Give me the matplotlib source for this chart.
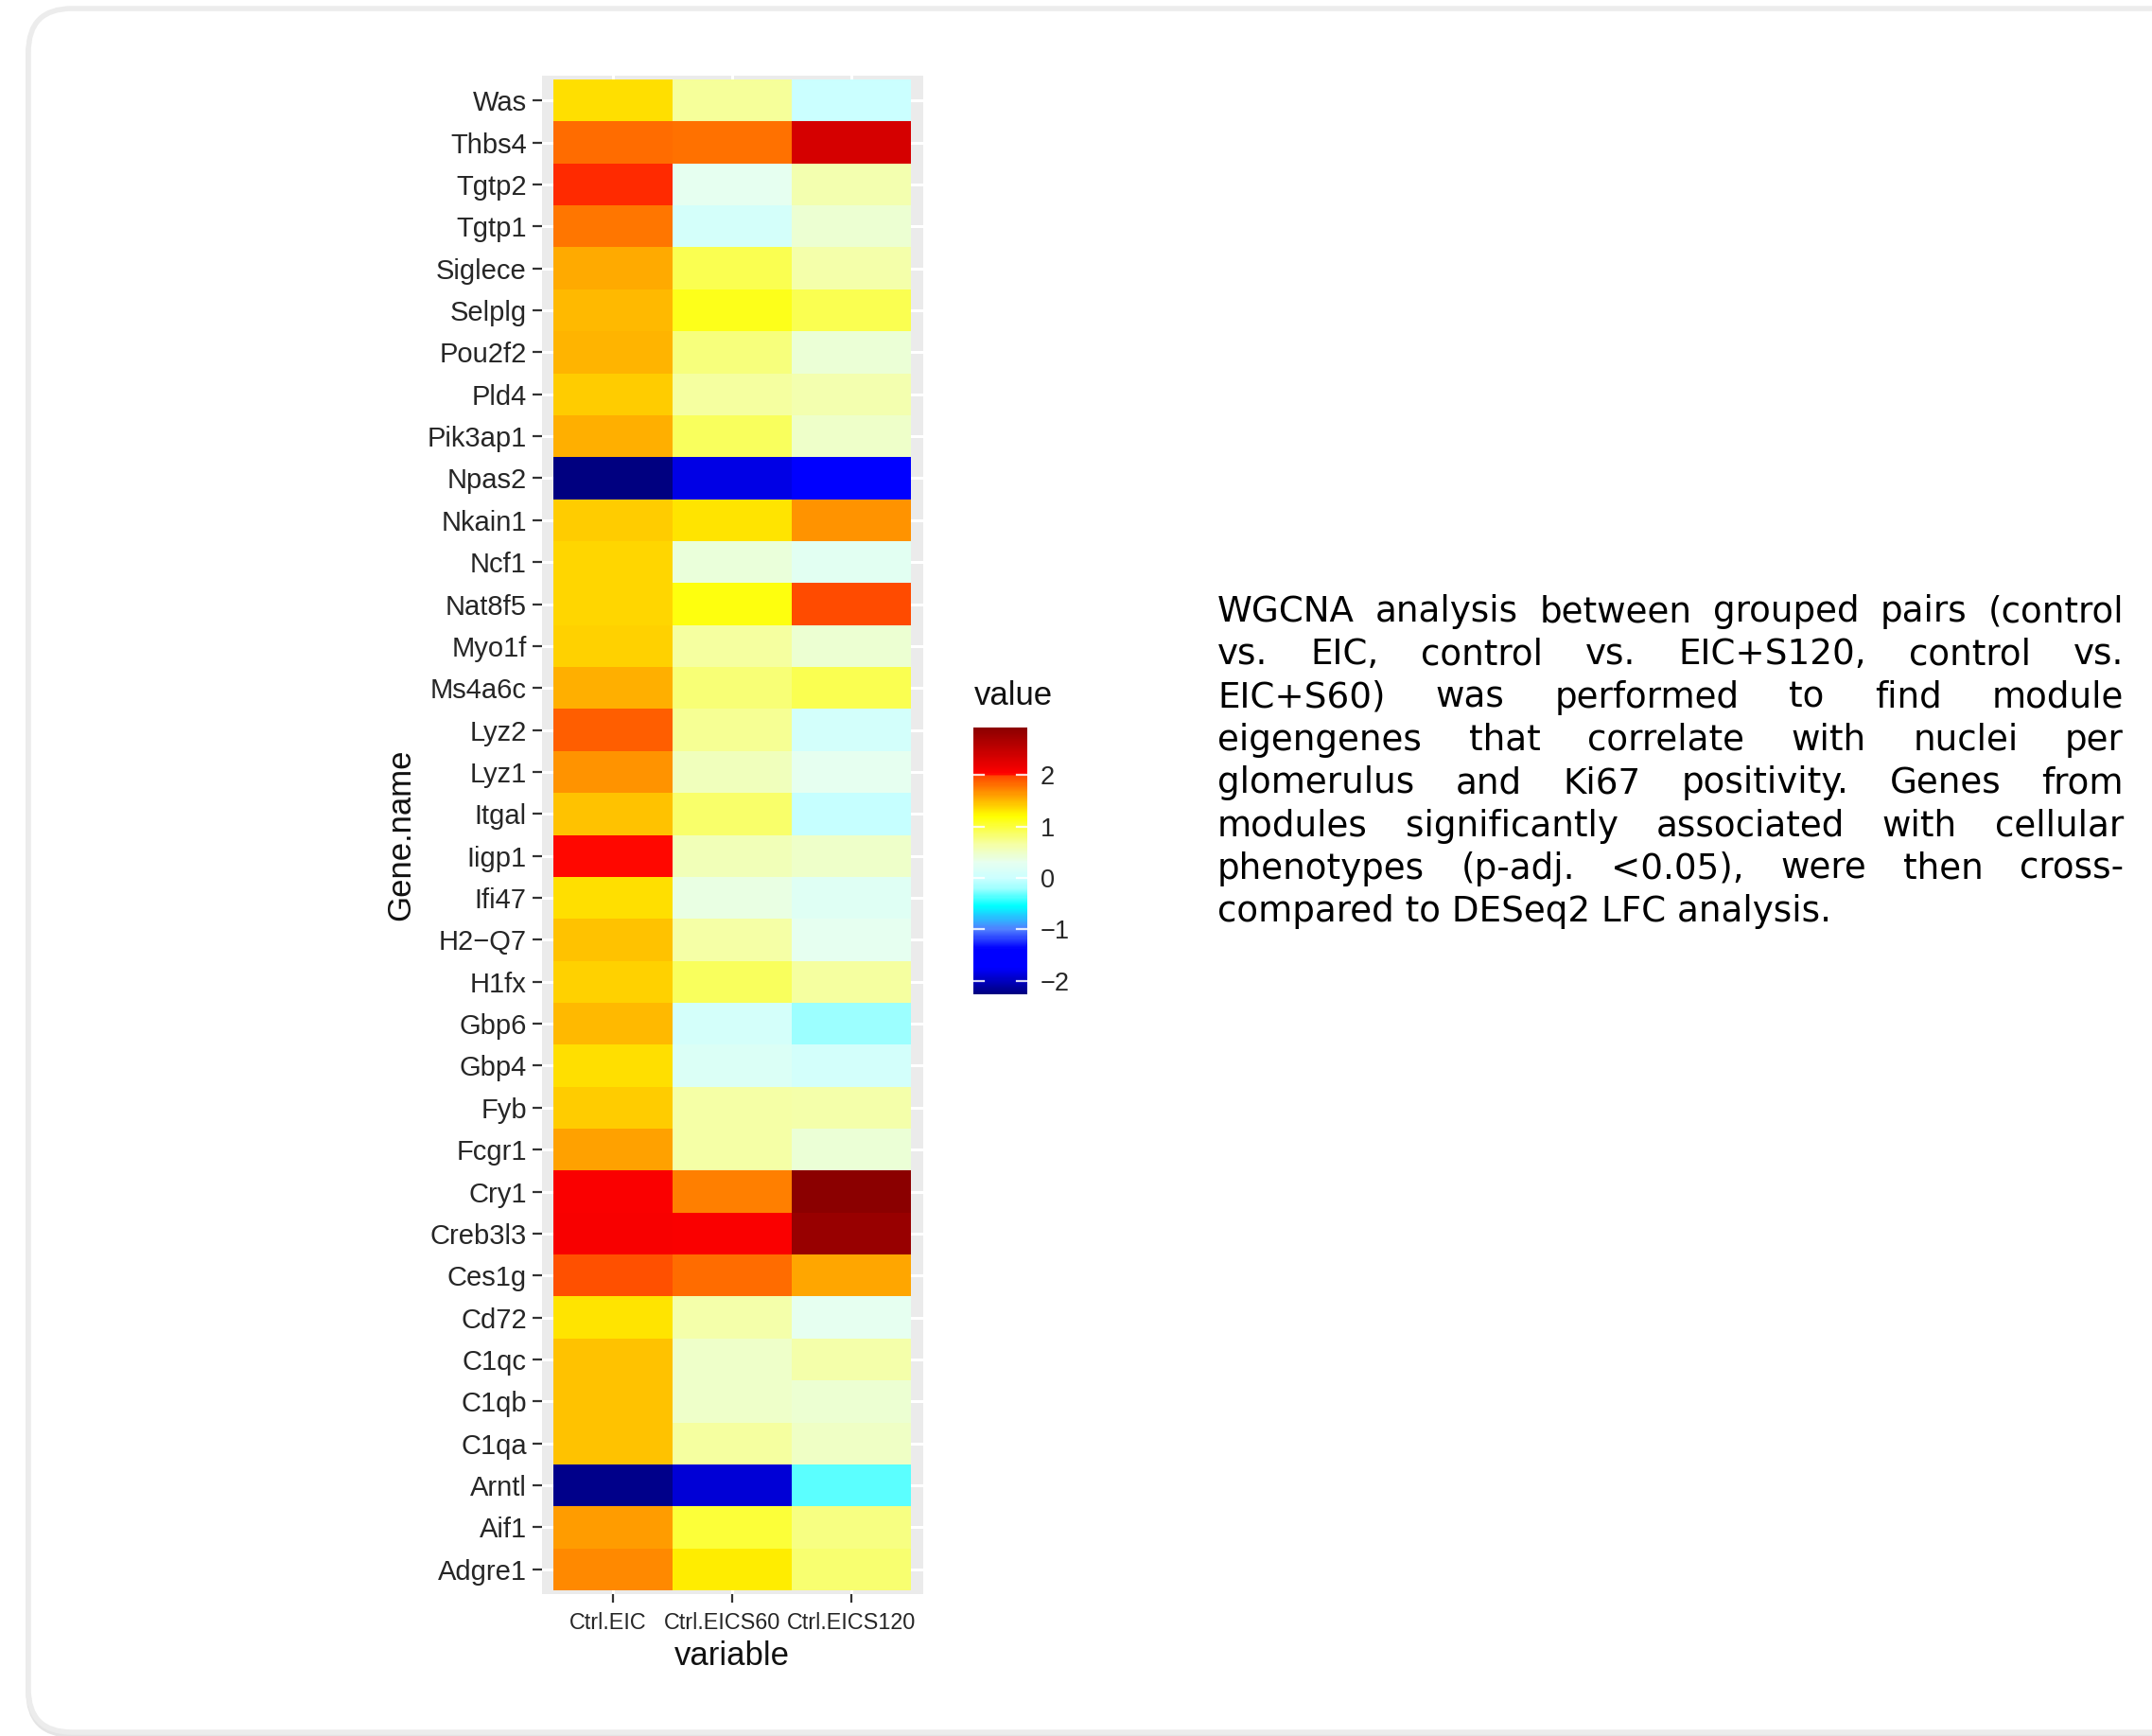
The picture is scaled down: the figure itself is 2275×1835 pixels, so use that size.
import numpy as np
import matplotlib
matplotlib.use("Agg")
import matplotlib.pyplot as plt
from matplotlib.colors import LinearSegmentedColormap
from matplotlib.patches import FancyBboxPatch

# rows listed bottom -> top (ggplot discrete axis order)
genes = ["Adgre1", "Aif1", "Arntl", "C1qa", "C1qb", "C1qc", "Cd72", "Ces1g",
         "Creb3l3", "Cry1", "Fcgr1", "Fyb", "Gbp4", "Gbp6", "H1fx", "H2\u2212Q7",
         "Ifi47", "Iigp1", "Itgal", "Lyz1", "Lyz2", "Ms4a6c", "Myo1f", "Nat8f5",
         "Ncf1", "Nkain1", "Npas2", "Pik3ap1", "Pld4", "Pou2f2", "Selplg",
         "Siglece", "Tgtp1", "Tgtp2", "Thbs4", "Was"]
variables = ["Ctrl.EIC", "Ctrl.EICS60", "Ctrl.EICS120"]

ctrl_eic = [1.70, 1.62, -2.20, 1.45, 1.45, 1.45, 1.31, 1.93, 2.08, 2.06, 1.60, 1.42,
            1.34, 1.49, 1.39, 1.45, 1.34, 2.01, 1.46, 1.65, 1.88, 1.54, 1.39, 1.38,
            1.38, 1.42, -2.26, 1.54, 1.41, 1.51, 1.50, 1.56, 1.77, 2.00, 1.82, 1.33]
ctrl_eics60 = [1.28, 1.01, -1.91, 0.67, 0.48, 0.48, 0.63, 1.82, 2.05, 1.74, 0.65, 0.65,
               0.18, 0.10, 0.88, 0.65, 0.37, 0.56, 0.85, 0.55, 0.70, 0.80, 0.67, 1.15,
               0.41, 1.31, -1.85, 0.88, 0.67, 0.79, 1.11, 0.93, 0.09, 0.30, 1.79, 0.69]
ctrl_eics120 = [0.83, 0.76, -0.34, 0.50, 0.44, 0.63, 0.30, 1.58, 2.80, 2.92, 0.43, 0.63,
                0.07, -0.20, 0.67, 0.30, 0.22, 0.48, -0.03, 0.30, 0.07, 0.93, 0.45, 1.95,
                0.26, 1.65, -1.60, 0.49, 0.61, 0.43, 0.93, 0.63, 0.45, 0.60, 2.35, 0.00]

caption_lines = [
    "WGCNA analysis between grouped pairs (control",
    "vs. EIC, control vs. EIC+S120, control vs.",
    "EIC+S60) was performed to find module",
    "eigengenes that correlate with nuclei per",
    "glomerulus and Ki67 positivity. Genes from",
    "modules significantly associated with cellular",
    "phenotypes (p-adj. <0.05), were then cross-",
    "compared to DESeq2 LFC analysis.",
]

W, H = 2275, 1835
SANS = ["Liberation Sans", "DejaVu Sans"]
TXT = "#262626"

Z = np.column_stack([ctrl_eic, ctrl_eics60, ctrl_eics120])
vmin, vmax = Z.min(), Z.max()

# gradient
stops = [(-2.26, "#000080"), (-1.75, "#0000FF"), (-1.38, "#0000FF"), (-1.0, "#5080FF"),
         (-0.55, "#00FFFF"), (-0.2, "#A0FFFF"), (0.0, "#CCFFFF"), (0.3, "#E6FFF0"),
         (0.65, "#F5FFA5"), (1.2, "#FFFF00"), (1.99, "#FF4500"), (2.03, "#FF0000"),
         (2.92, "#8B0000")]
cmap = LinearSegmentedColormap.from_list(
    "lfc", [((v - vmin) / (vmax - vmin), c) for v, c in stops])


def px(x0, y0, x1, y1):
    return [x0 / W, 1 - y1 / H, (x1 - x0) / W, (y1 - y0) / H]


fig = plt.figure(figsize=(W / 100, H / 100), dpi=100)

# card background
bg = fig.add_axes([0, 0, 1, 1])
bg.set_xlim(0, W)
bg.set_ylim(H, 0)
bg.axis("off")
bg.add_patch(FancyBboxPatch((30, 12), 2400, 1822, boxstyle="round,pad=0,rounding_size=46",
                            fc="none", ec="#e4e4e4", lw=4.0))
bg.add_patch(FancyBboxPatch((30, 9), 2400, 1822, boxstyle="round,pad=0,rounding_size=46",
                            fc="white", ec="#ececec", lw=4.0))

# heatmap
ax = fig.add_axes(px(573, 80, 976, 1685))
ax.set_facecolor("#EBEBEB")
n = len(genes)
im = ax.pcolormesh(np.arange(0.5, 3.6, 1.0), np.arange(0.5, n + 0.6, 1.0), Z,
                   cmap=cmap, vmin=vmin, vmax=vmax, shading="flat", zorder=2)
for k in range(1, 4):
    ax.axvline(k, color="white", lw=2.2, zorder=1)
for k in range(1, n + 1):
    ax.axhline(k, color="white", lw=2.2, zorder=1)
ax.set_xlim(0.405, 3.6)
ax.set_ylim(0.41, n + 0.59)
ax.set_xticks([1, 2, 3])
ax.set_xticklabels([])
ax.set_yticks(np.arange(1, n + 1))
ax.set_yticklabels(genes, fontsize=21, family=SANS, color=TXT)
ax.tick_params(axis="y", length=7.2, width=1.6, color="#333333", pad=4.5)
ax.tick_params(axis="x", length=6.5, width=1.6, color="#333333")
for s in ax.spines.values():
    s.set_visible(False)

# x labels sit slightly off-centre in the original
label_shift = [-0.04, -0.087, 0.0]
for k, (lab, dx) in enumerate(zip(variables, label_shift)):
    ax.text(k + 1 + dx, -0.0187, lab, transform=ax.get_xaxis_transform(),
            ha="center", va="center", fontsize=16.8, family=SANS, color=TXT)

bg.text(424, 882, "Gene.name", rotation=90, ha="center", va="center",
        fontsize=25, family=SANS, color="#111111")
bg.text(774, 1750, "variable", ha="center", va="center",
        fontsize=25, family=SANS, color="#111111")

# legend
cax = fig.add_axes(px(1029, 769, 1086, 1051))
cb = fig.colorbar(im, cax=cax, ticks=[-2, -1, 0, 1, 2])
cb.outline.set_visible(False)
cax.tick_params(length=0, pad=10, labelsize=19.5, labelcolor=TXT)
for lab in cax.get_yticklabels():
    lab.set_family(SANS)
for t in [-2, -1, 0, 1, 2]:
    cax.plot([0, 0.2], [t, t], color="white", lw=1.6, alpha=0.85)
    cax.plot([0.8, 1], [t, t], color="white", lw=1.6, alpha=0.85)
bg.text(1030, 745, "value", ha="left", va="baseline",
        fontsize=25, family=SANS, color="#111111")

# justified caption
renderer = fig.canvas.get_renderer()
x_left, x_right = 1287, 2245
for i, line in enumerate(caption_lines):
    y = 657 + 45.3 * i
    kw = dict(fontsize=26.8, family="DejaVu Sans", color="black", va="baseline", ha="left")
    if i == len(caption_lines) - 1:
        bg.text(x_left, y, line, **kw)
        continue
    words = line.split(" ")
    texts = [bg.text(0, y, w, **kw) for w in words]
    widths = [t.get_window_extent(renderer).width for t in texts]
    gap = (x_right - x_left - sum(widths)) / (len(words) - 1)
    x = x_left
    for t, w in zip(texts, widths):
        t.set_x(x)
        x += w + gap

fig.savefig("out.png", dpi=100)
